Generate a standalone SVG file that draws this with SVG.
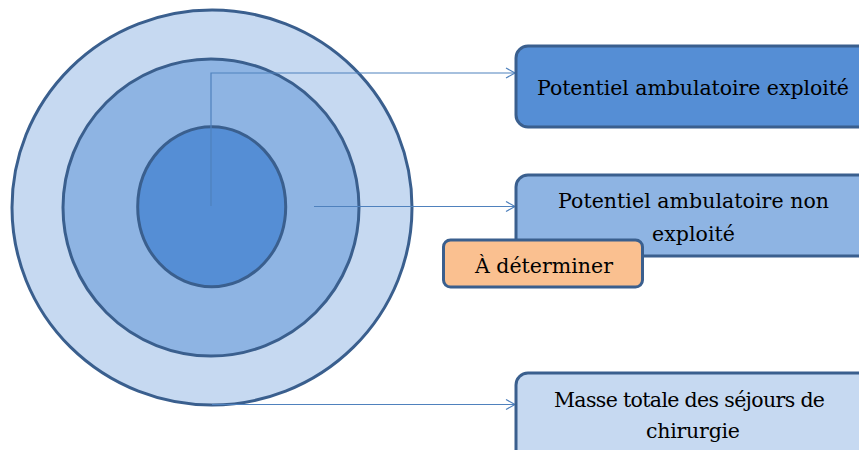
<svg xmlns="http://www.w3.org/2000/svg" width="859" height="450" viewBox="0 0 859 450">
<style>
.ring{stroke:#3A5F8E;stroke-width:3}
.box{stroke:#3A5F8E;stroke-width:3}
.conn{fill:none;stroke:#4F81BD;stroke-width:1.2}
.t{font-family:"DejaVu Serif","Liberation Serif",serif;font-size:20.5px;fill:#000;text-anchor:middle}
</style>
<defs>
<marker id="arr" markerWidth="12" markerHeight="12" refX="10" refY="6" orient="auto" markerUnits="userSpaceOnUse">
<path d="M1,1 L10,6 L1,11" fill="none" stroke="#4F81BD" stroke-width="1.2"/>
</marker>
</defs>
<g id="outer"><ellipse class="ring" cx="212" cy="207.5" rx="200" ry="197.5" fill="#C6D9F1"/></g>
<g id="middle"><ellipse class="ring" cx="211" cy="207.5" rx="148" ry="148.5" fill="#8EB4E3"/></g>
<g id="inner"><ellipse class="ring" cx="211.7" cy="206.7" rx="74" ry="80" fill="#558ED5"/></g>
<g id="connectors">
<path class="conn" d="M211,206 V73 H515" marker-end="url(#arr)"/>
<path class="conn" d="M314,206.5 H515" marker-end="url(#arr)"/>
<path class="conn" d="M212,404.5 H515" marker-end="url(#arr)"/>
</g>
<g id="box-exploite">
<rect class="box" x="516" y="46" width="360" height="81" rx="12" fill="#558ED5"/>
<text class="t" x="693" y="95" textLength="312">Potentiel ambulatoire exploité</text>
</g>
<g id="box-non-exploite">
<rect class="box" x="516" y="175" width="360" height="81" rx="12" fill="#8EB4E3"/>
<text class="t" x="693.5" y="208" textLength="271">Potentiel ambulatoire non</text>
<text class="t" x="693.5" y="241" textLength="83">exploité</text>
</g>
<g id="box-determiner">
<rect class="box" x="443.5" y="240" width="199" height="47" rx="7" fill="#FAC090"/>
<text class="t" x="544" y="273" textLength="138">À déterminer</text>
</g>
<g id="box-masse">
<rect class="box" x="516" y="373" width="360" height="90" rx="12" fill="#C6D9F1"/>
<text class="t" x="689.5" y="407" textLength="271">Masse totale des séjours de</text>
<text class="t" x="693" y="438" textLength="94">chirurgie</text>
</g>
</svg>
